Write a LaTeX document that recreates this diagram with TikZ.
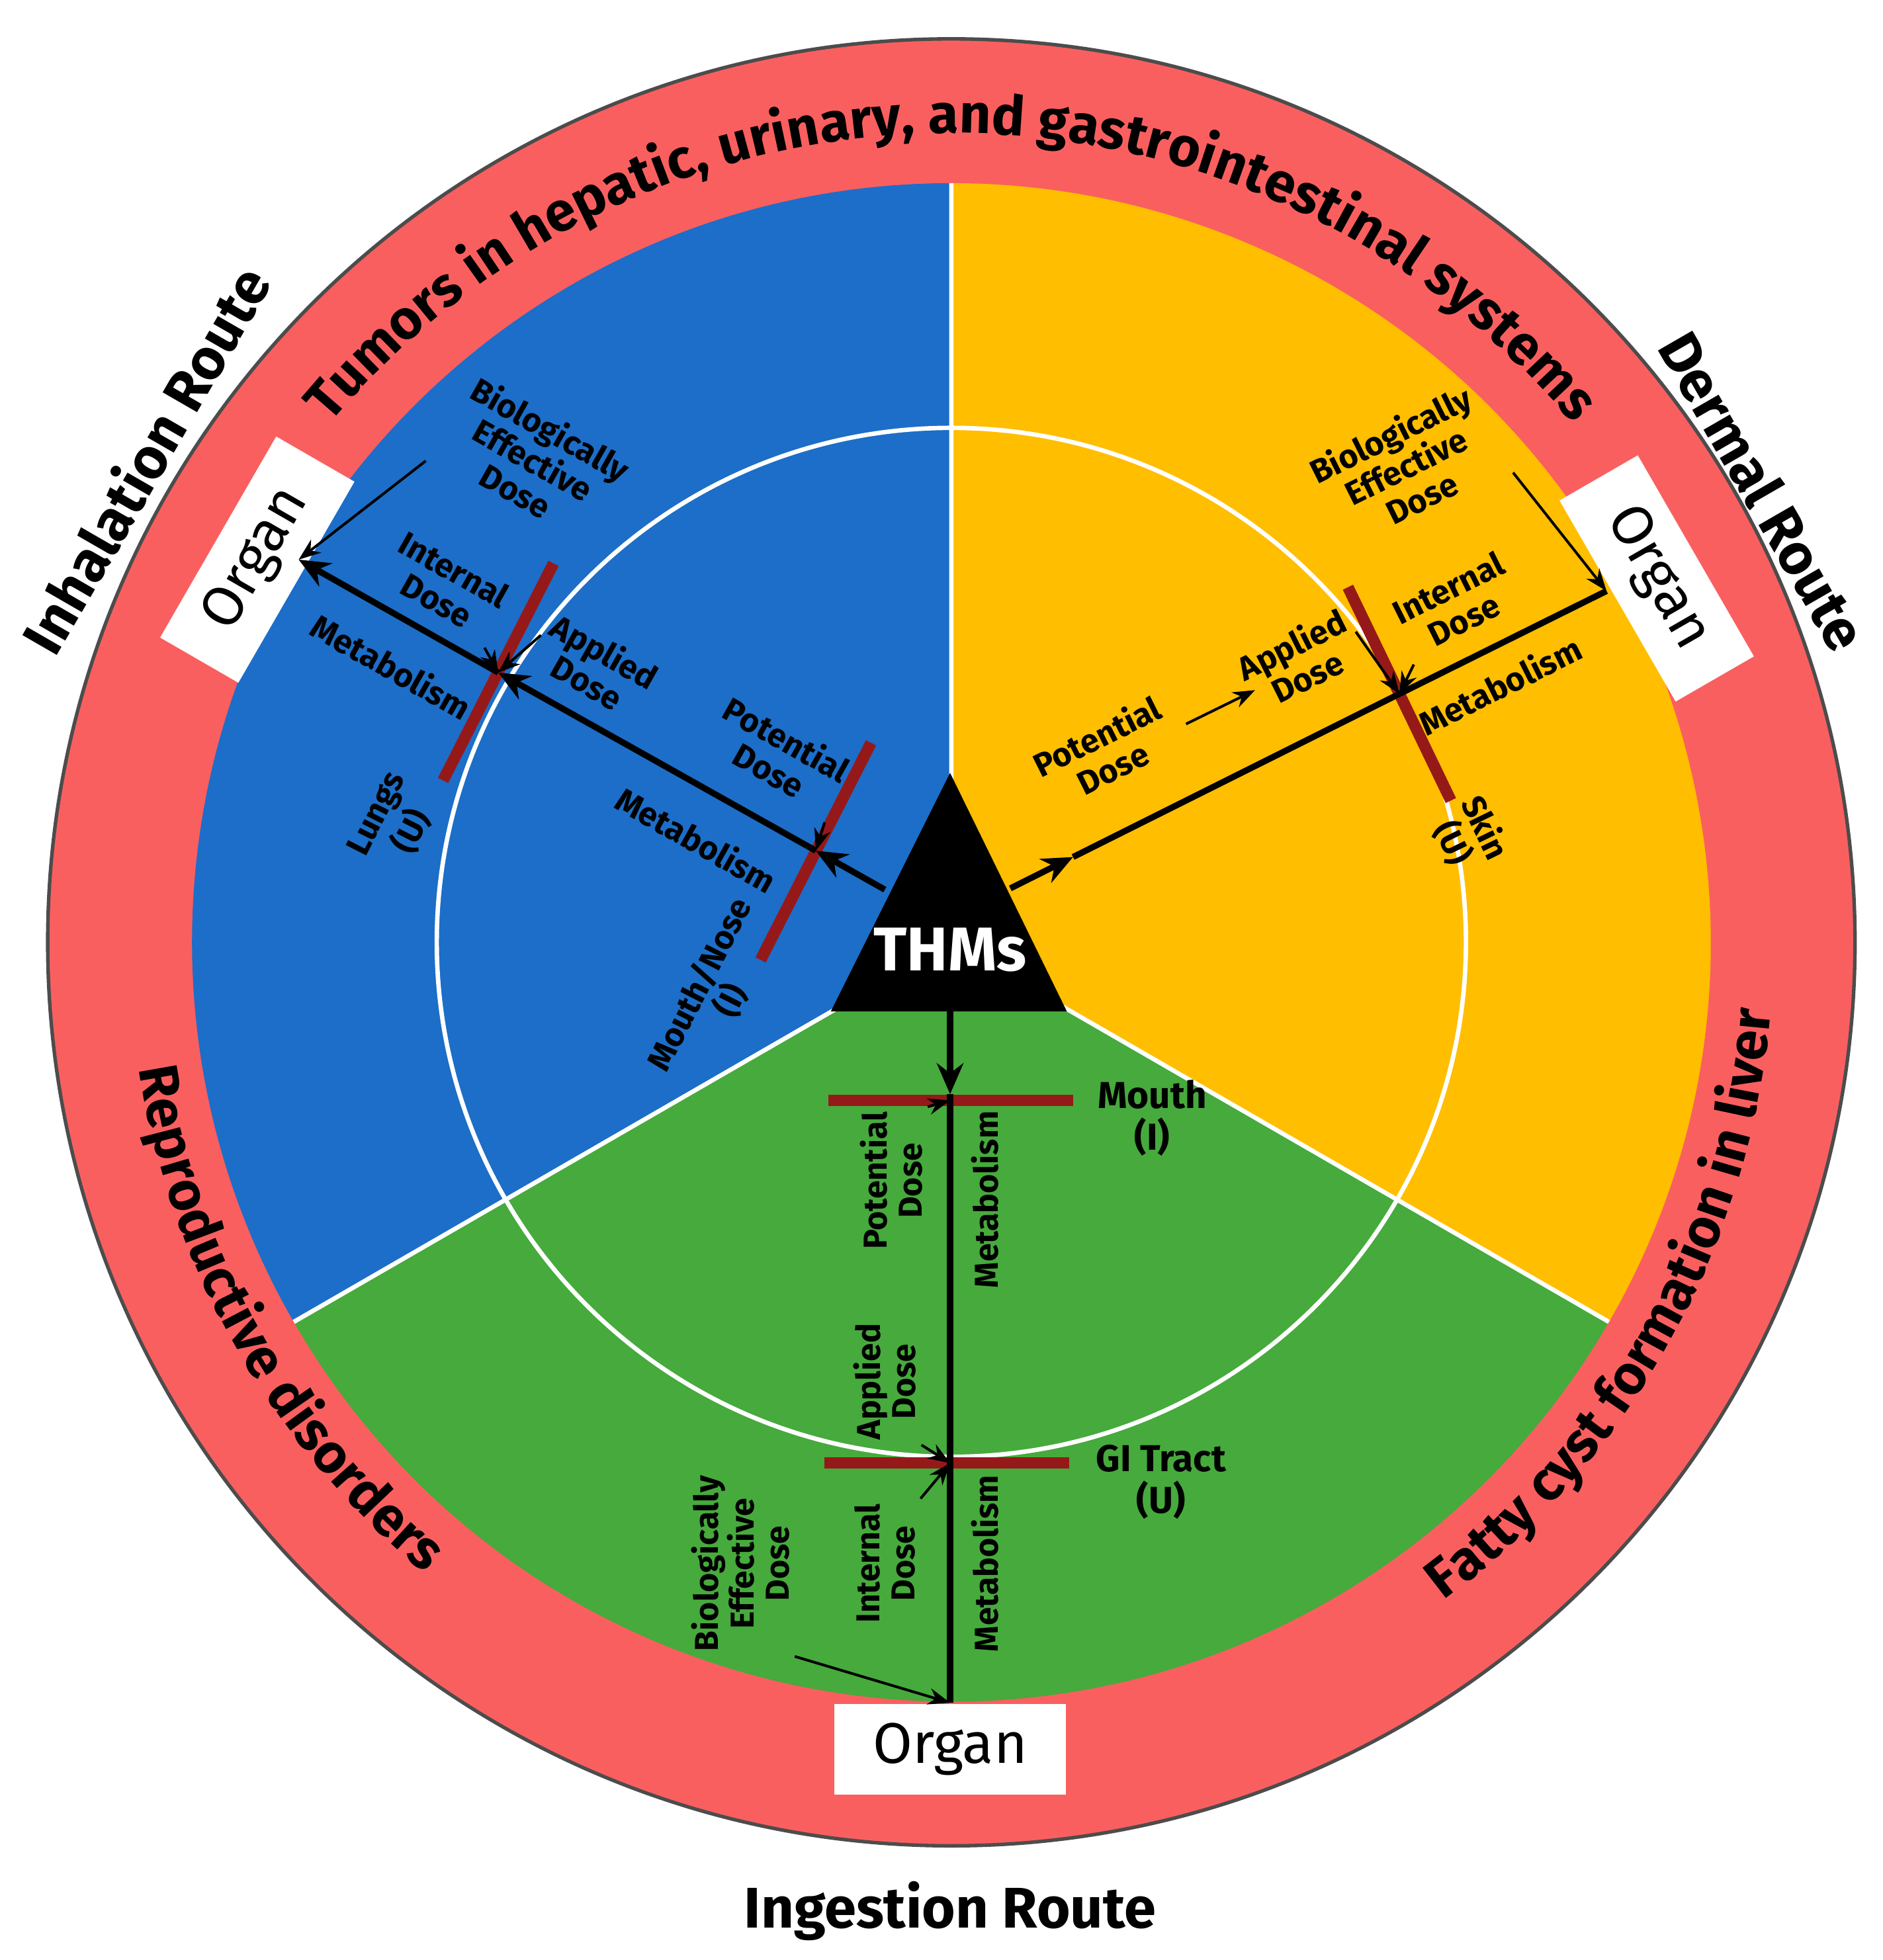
\documentclass[tikz,border=0pt]{standalone}
\usepackage{fontspec}
\setmainfont{Fira Sans}
\usetikzlibrary{arrows.meta,decorations.text}
\definecolor{ringred}{RGB}{250,95,95}
\definecolor{secblue}{RGB}{28,110,200}
\definecolor{secgreen}{RGB}{70,170,60}
\definecolor{secorange}{RGB}{255,190,0}
\definecolor{bardark}{RGB}{150,25,25}
\tikzset{
	lbl/.style={font=\fontsize{7.5}{8}\selectfont\bfseries, align=center, inner sep=1pt},
	route/.style={font=\fontsize{13}{15}\selectfont\bfseries},
	organ/.style={fill=white, minimum width=1.85cm, minimum height=0.72cm, font=\fontsize{13}{15}\selectfont},
	main/.style={line width=1.4pt, -{Stealth[length=7pt,width=6pt]}},
	plain/.style={line width=1.4pt},
	thin/.style={line width=0.6pt, -{Stealth[length=5pt]}},
	rbar/.style={bardark, line width=2.6pt},
}
\begin{document}
\begin{tikzpicture}
	\useasboundingbox (0,0) rectangle (15.0,15.62);
	\coordinate (C) at (7.58,8.11);
	% Anillo y sectores
		\fill[ringred, draw=black!70, line width=0.8pt] (C) circle[radius=7.2];
		\fill[secblue] (C) -- ++(90:6.05) arc[start angle=90, end angle=210, radius=6.05] -- cycle;
		\fill[secgreen] (C) -- ++(210:6.05) arc[start angle=210, end angle=330, radius=6.05] -- cycle;
		\fill[secorange] (C) -- ++(-30:6.05) arc[start angle=-30, end angle=90, radius=6.05] -- cycle;
		\draw[white, line width=1pt] (C) circle[radius=4.1];
		\draw[white, line width=1pt] (C) -- ++(90:6.05) (C) -- ++(210:6.05) (C) -- ++(330:6.05);
	% Textos curvos
		\path[decorate, decoration={text along path, text align=center,
			text={|\fontsize{12.5}{14}\selectfont\bfseries|Tumors in hepatic, urinary, and gastrointestinal systems}}]
			(C) ++(140:6.45) arc[start angle=140, end angle=40, radius=6.45];
		\path[decorate, decoration={text along path, text align=center,
			text={|\fontsize{12.5}{14}\selectfont\bfseries|Reproductive disorders}}]
			(C) ++(183:6.55) arc[start angle=183, end angle=236, radius=6.55];
		\path[decorate, decoration={text along path, text align=center,
			text={|\fontsize{12.5}{14}\selectfont\bfseries|Fatty cyst formation in liver}}]
			(C) ++(-60:6.55) arc[start angle=-60, end angle=2, radius=6.55];
	% Rutas
		\node[route, rotate=60] (inh) at (1.15,11.96) {Inhalation Route};
		\node[route, rotate=-60] (der) at (14.05,11.71) {Dermal Route};
		\node[route] (ing) at (7.57,0.39) {Ingestion Route};
	% Organos
		\node[organ, rotate=60] (orgA) at (2.05,11.16) {Organ};
		\node[organ, rotate=-60] (orgB) at (13.20,11.01) {Organ};
		\node[organ] (orgC) at (7.57,1.68) {Organ};
	% THMs
		\fill (7.57,9.46) -- (6.62,7.56) -- (8.50,7.56) -- cycle;
		\node[white, font=\fontsize{14}{16}\selectfont\bfseries] (thm) at (7.57,8.05) {THMs};
	% Inhalacion
		\coordinate (a0) at (7.05,8.53);
		\coordinate (a1) at (6.50,8.84);
		\coordinate (a2) at (3.97,10.26);
		\coordinate (a3) at (2.38,11.16);
		\draw[rbar] (6.06,7.97) -- (6.94,9.70);
		\draw[rbar] (3.53,9.40) -- (4.41,11.13);
		\draw[main] (a0) -- (a1);
		\draw[main] (a1) -- (a2);
		\draw[main] (a2) -- (a3);
		\node[lbl, rotate=-29.4] (bedA) at (4.25,11.96) {Biologically\\Effective\\Dose};
		\node[lbl, rotate=-29.4] (intA) at (3.55,10.96) {Internal\\Dose};
		\node[lbl, rotate=-29.4] (appA) at (4.75,10.31) {Applied\\Dose};
		\node[lbl, rotate=-29.4] (metA) at (3.12,10.31) {Metabolism};
		\node[lbl, rotate=-29.4] (potA) at (6.20,9.61) {Potential\\Dose};
		\node[lbl, rotate=-29.4] (metB) at (5.55,8.93) {Metabolism};
		\node[lbl, rotate=63] (lung) at (3.15,9.06) {Lungs\\(U)};
		\node[lbl, rotate=63] (mono) at (5.70,7.71) {Mouth/Nose\\(I)};
		\draw[thin] (bedA.south west) -- (a3);
		\draw[thin] (intA.south east) -- (a2);
		\draw[thin] (appA.west) -- (a2);
		\draw[thin] (potA.south east) -- (a1);
	% Dermica
		\coordinate (d0) at (8.05,8.54);
		\coordinate (d1) at (8.55,8.79);
		\coordinate (d2) at (11.15,10.09);
		\coordinate (d3) at (12.80,10.91);
		\draw[rbar] (10.74,10.94) -- (11.56,9.24);
		\draw[main] (d0) -- (d1);
		\draw[plain] (d1) -- (d2);
		\draw[plain] (d2) -- (d3);
		\node[lbl, rotate=26.5] (potB) at (8.80,9.63) {Potential\\Dose};
		\node[lbl, rotate=26.5] (appB) at (10.35,10.36) {Applied\\Dose};
		\node[lbl, rotate=26.5] (intB) at (11.60,10.81) {Internal\\Dose};
		\node[lbl, rotate=26.5] (bedB) at (11.20,11.91) {Biologically\\Effective\\Dose};
		\node[lbl, rotate=26.5] (metC) at (11.95,10.16) {Metabolism};
		\node[lbl, rotate=-64] (skin) at (11.70,8.96) {Skin\\(U)};
		\coordinate (dp) at (10.00,10.12);
		\draw[thin] (9.45,9.85) -- (dp);
		\draw[thin] (appB.east) -- (d2);
		\draw[thin] (intB.south west) -- (d2);
		\draw[thin] (bedB.south east) -- (d3);
	% Ingestion
		\coordinate (g0) at (7.57,7.56);
		\coordinate (g1) at (7.57,6.90);
		\coordinate (g2) at (7.57,6.85);
		\coordinate (g3) at (7.57,3.96);
		\coordinate (g4) at (7.57,2.05);
		\draw[rbar] (6.60,6.85) -- (8.55,6.85);
		\draw[rbar] (6.57,3.96) -- (8.52,3.96);
		\draw[main] (g0) -- (g1);
		\draw[plain] (g1) -- (g4);
		\node[lbl, rotate=90] (potC) at (7.10,6.21) {Potential\\Dose};
		\node[lbl, rotate=90] (metD) at (7.85,6.06) {Metabolism};
		\node[lbl, font=\fontsize{8.5}{9.5}\selectfont\bfseries] (mth) at (9.18,6.71) {Mouth\\(I)};
		\node[lbl, rotate=90] (appC) at (7.05,4.61) {Applied\\Dose};
		\node[lbl, font=\fontsize{8.5}{9.5}\selectfont\bfseries] (gi) at (9.25,3.81) {GI Tract\\(U)};
		\node[lbl, rotate=90] (intC) at (7.05,3.16) {Internal\\Dose};
		\node[lbl, rotate=90] (metE) at (7.85,3.16) {Metabolism};
		\node[lbl, rotate=90] (bedC) at (5.90,3.16) {Biologically\\Effective\\Dose};
		\draw[thin] (potC.south east) -- (g2);
		\draw[thin] (appC.south west) -- (g3);
		\draw[thin] (intC.south east) -- (g3);
		\draw[thin] (bedC.south west) -- (g4);
\end{tikzpicture}
\end{document}
